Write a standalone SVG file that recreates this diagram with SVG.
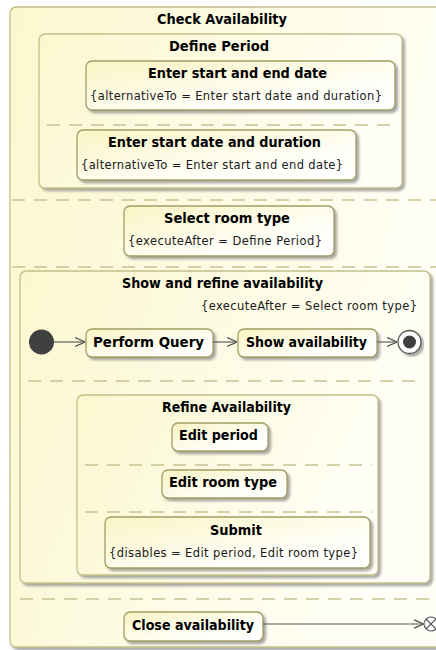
<svg xmlns="http://www.w3.org/2000/svg" width="436" height="650" viewBox="0 0 436 650">
  <defs>
    <linearGradient id="frameFill" x1="0" y1="0" x2="1" y2="0.3">
      <stop offset="0" stop-color="#fbf7cf"/>
      <stop offset="1" stop-color="#fffff6"/>
    </linearGradient>
    <linearGradient id="actionFill" x1="0" y1="0" x2="1" y2="1">
      <stop offset="0" stop-color="#faf4c4"/>
      <stop offset="0.7" stop-color="#fffffa"/>
      <stop offset="1" stop-color="#ffffff"/>
    </linearGradient>
    <filter id="shadow" x="-5%" y="-5%" width="115%" height="120%">
      <feDropShadow dx="2.5" dy="2.5" stdDeviation="0.8" flood-color="#7a7a7a" flood-opacity="0.65"/>
    </filter>
    <marker id="open" viewBox="0 0 10 10" refX="10" refY="5" markerWidth="10" markerHeight="10" markerUnits="userSpaceOnUse" orient="auto">
      <path d="M0,0.5 L10,5 L0,9.5" fill="none" stroke="#555" stroke-width="1.2"/>
    </marker>
  </defs>
  <style>
    .frame { fill: url(#frameFill); stroke: #c3bf8a; stroke-width: 1.3; filter: url(#shadow); }
    .action { fill: url(#actionFill); stroke: #a29e66; stroke-width: 1.3; filter: url(#shadow); }
    .sep { stroke: #c6c294; stroke-width: 1.5; stroke-dasharray: 13 9; fill: none; }
    .flow { stroke: #555; stroke-width: 1.1; fill: none; marker-end: url(#open); }
    .title { font-family: "DejaVu Sans", Verdana, sans-serif; font-weight: bold; font-size: 13.5px; fill: #000; }
    .note { font-family: "DejaVu Sans", Verdana, sans-serif; font-size: 11.5px; fill: #1a1a1a; }
  </style>

  <!-- outer activity frame -->
  <g id="check-availability">
    <rect class="frame" x="10" y="7" width="440" height="640" rx="6"/>
    <text class="title" x="157" y="24" textLength="130" lengthAdjust="spacingAndGlyphs">Check Availability</text>
  </g>

  <g id="define-period">
    <rect class="frame" x="39" y="34" width="363" height="154" rx="6"/>
    <text class="title" x="169" y="51" textLength="100" lengthAdjust="spacingAndGlyphs">Define Period</text>
  </g>

  <g id="enter-start-end">
    <rect class="action" x="86" y="61" width="309" height="49" rx="6"/>
    <text class="title" x="148" y="78" textLength="179" lengthAdjust="spacingAndGlyphs">Enter start and end date</text>
    <text class="note" x="90" y="100" textLength="292">{alternativeTo = Enter start date and duration}</text>
  </g>

  <g id="enter-start-duration">
    <rect class="action" x="77" y="130" width="279" height="50" rx="6"/>
    <text class="title" x="108" y="147" textLength="213" lengthAdjust="spacingAndGlyphs">Enter start date and duration</text>
    <text class="note" x="81" y="169" textLength="262">{alternativeTo = Enter start and end date}</text>
  </g>

  <g id="select-room-type">
    <rect class="action" x="124" y="206" width="210" height="50" rx="6"/>
    <text class="title" x="164" y="223" textLength="126" lengthAdjust="spacingAndGlyphs">Select room type</text>
    <text class="note" x="128" y="245" textLength="194">{executeAfter = Define Period}</text>
  </g>

  <g id="show-and-refine">
    <rect class="frame" x="20" y="271" width="410" height="312" rx="6"/>
    <text class="title" x="122" y="288" textLength="201" lengthAdjust="spacingAndGlyphs">Show and refine availability</text>
    <text class="note" x="201" y="310" textLength="216">{executeAfter = Select room type}</text>
  </g>

  <g id="initial">
    <circle cx="41.5" cy="342" r="12.5" fill="#404040"/>
  </g>

  <g id="perform-query">
    <rect class="action" x="86" y="329" width="127" height="28" rx="6"/>
    <text class="title" x="93" y="347" textLength="111" lengthAdjust="spacingAndGlyphs">Perform Query</text>
  </g>

  <g id="show-availability">
    <rect class="action" x="238" y="329" width="139" height="28" rx="6"/>
    <text class="title" x="246" y="347" textLength="121" lengthAdjust="spacingAndGlyphs">Show availability</text>
  </g>

  <g id="activity-final">
    <circle cx="409.5" cy="342" r="11.5" fill="#fff" stroke="#555" stroke-width="1.3" filter="url(#shadow)"/>
    <circle cx="409.5" cy="342" r="6.5" fill="#404040"/>
  </g>

  <g id="refine-availability">
    <rect class="frame" x="77" y="395" width="301" height="180" rx="6"/>
    <text class="title" x="162" y="412" textLength="129" lengthAdjust="spacingAndGlyphs">Refine Availability</text>
  </g>

  <g id="edit-period">
    <rect class="action" x="172" y="423" width="96" height="28" rx="6"/>
    <text class="title" x="179" y="440" textLength="79" lengthAdjust="spacingAndGlyphs">Edit period</text>
  </g>

  <g id="edit-room-type">
    <rect class="action" x="162" y="470" width="125" height="28" rx="6"/>
    <text class="title" x="169" y="487" textLength="108" lengthAdjust="spacingAndGlyphs">Edit room type</text>
  </g>

  <g id="submit">
    <rect class="action" x="105" y="517" width="265" height="51" rx="6"/>
    <text class="title" x="210" y="535" textLength="52" lengthAdjust="spacingAndGlyphs">Submit</text>
    <text class="note" x="109" y="557" textLength="249">{disables = Edit period, Edit room type}</text>
  </g>

  <g id="close-availability">
    <rect class="action" x="124" y="612" width="139" height="29" rx="6"/>
    <text class="title" x="132" y="630" textLength="122" lengthAdjust="spacingAndGlyphs">Close availability</text>
  </g>

  <g id="flow-final">
    <circle cx="431" cy="624" r="7" fill="#fff" stroke="#555" stroke-width="1.1"/>
    <path d="M426,619 L436,629 M436,619 L426,629" stroke="#555" stroke-width="1.1"/>
  </g>

  <!-- region separators, drawn over the frames they divide -->
  <g id="separators">
    <line class="sep" x1="47" y1="125" x2="390" y2="125"/>
    <line class="sep" x1="12" y1="200" x2="436" y2="200"/>
    <line class="sep" x1="12" y1="267" x2="436" y2="267"/>
    <line class="sep" x1="28" y1="381" x2="422" y2="381"/>
    <line class="sep" x1="85" y1="465" x2="372" y2="465"/>
    <line class="sep" x1="85" y1="512" x2="372" y2="512"/>
    <line class="sep" x1="20" y1="599" x2="436" y2="599"/>
  </g>

  <!-- control flows -->
  <g id="flows">
    <line class="flow" x1="54" y1="342" x2="85" y2="342"/>
    <line class="flow" x1="213" y1="342" x2="237" y2="342"/>
    <line class="flow" x1="377" y1="342" x2="397" y2="342"/>
    <line class="flow" x1="263" y1="624" x2="423.5" y2="624"/>
  </g>
</svg>
